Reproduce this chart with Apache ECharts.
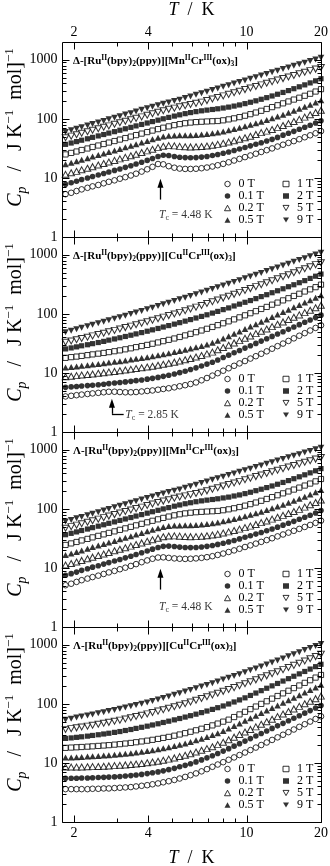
<!DOCTYPE html>
<html>
<head>
<meta charset="utf-8">
<script src="https://cdn.jsdelivr.net/npm/echarts@6/dist/echarts.min.js"></script>
<style>
  html, body { margin: 0; padding: 0; background: #fff; }
  #chart { width: 330px; height: 866px; }
</style>
</head>
<body>
<div id="chart"></div>
<script>
// Heat capacity Cp (J K^-1 mol^-1) versus temperature T (K), measured in applied fields 0–9 T.
const temperature = [1.85,1.95,2.05,2.15,2.27,2.38,2.51,2.64,2.77,2.92,3.07,3.23,3.40,3.57,3.76,3.96,4.16,4.38,4.60,4.84,5.10,5.36,5.64,5.93,6.24,6.57,6.91,7.27,7.64,8.04,8.46,8.90,9.36,9.85,10.36,10.90,11.46,12.06,12.68,13.34,14.04,14.77,15.53,16.34,17.19,18.08,19.02,20.0];
const fieldNames = ['0 T', '0.1 T', '0.2 T', '0.5 T', '1 T', '2 T', '5 T', '9 T'];

// Δ-[Ru(bpy)2(ppy)][MnCr(ox)3]
const cpDeltaMn_0T  = [5.3,5.6,6.0,6.4,6.8,7.2,7.6,8.1,8.6,9.1,9.7,10.3,11.0,11.8,12.8,14.0,15.4,17.2,17.0,15.8,14.9,14.4,14.2,14.2,14.3,14.6,15.0,15.6,16.4,17.3,18.4,19.7,21.0,22.5,24.0,25.7,27.5,29.5,31.6,34.0,36.5,39.2,42.0,45.2,48.8,52.7,57.0,62.0];
const cpDeltaMn_01T = [7.8,8.3,8.8,9.4,10.0,10.6,11.2,11.9,12.6,13.4,14.2,15.1,16.1,17.2,18.4,19.8,21.3,23.0,24.2,24.0,23.0,22.4,22.1,22.0,22.1,22.5,23.1,23.9,24.9,26.1,27.5,29.1,30.9,32.8,34.9,37.1,39.5,42.1,45.0,48.5,53,57,61.5,66.5,72,78,85,93];
const cpDeltaMn_02T = [11.5,12.2,12.9,13.7,14.6,15.5,16.5,17.5,18.6,19.8,21.0,22.3,23.7,25.2,26.9,28.7,30.6,32.6,34.4,35.2,34.9,34.2,33.7,33.5,33.6,34.0,34.7,35.7,37.0,38.6,40.5,42.7,45.1,47.8,50.7,54.5,58.5,62,66,71,77,83,90,98,107,117,128,140];
const cpDeltaMn_05T = [17.0,18.0,19.1,20.3,21.6,23.0,24.4,25.9,27.5,29.2,31.0,33.0,35.1,37.3,39.7,42.3,45.0,47.8,50.3,51.9,52.5,52.6,52.6,52.8,53.3,54.1,55.3,56.9,58.9,61.3,64.1,67.3,70.9,74.9,79.3,84.1,89.4,95.2,102,109.5,117.5,127,137,148,160,174,190,207];
const cpDeltaMn_1T  = [25.0,26.5,28.0,29.7,31.5,33.4,35.4,37.5,39.7,42.1,44.6,47.3,50.1,53.1,56.3,59.7,63.3,67.0,70.8,74.6,78.2,81.5,84.3,86.5,88.1,89.3,90.3,91.2,92,94.5,98,102,107,113,120,128,137,147,158,170,183,197,212,228,246,266,290,318];
const cpDeltaMn_2T  = [37,39,41.2,43.5,46,48.6,51.4,54.3,57.4,60.7,64.2,67.9,71.8,76,80.4,85,89.9,95,100.3,105.8,111.4,117,122.5,127.7,132.5,136.8,140.6,144.1,148,152.5,158,164.5,172,181,191,202,214.5,228.5,244,261,280,301,324,349,376,406,440,478];
const cpDeltaMn_5T  = [48,51,54,57,60.5,64,68,72,76,81,86,91,96.5,102,108,115,122,129,137,145,152,160,167,175,183,192,204,217,230,245,260,277,294,313,333,354,376,400,426,453,481,512,544,579,616,655,696,740];
const cpDeltaMn_9T  = [60,64,68,72,77,81.5,87,92,98,104,111,118,125,133,142,151,160,170,180,190,200,211,225,239,255,271,289,308,328,349,371,395,421,448,477,508,541,576,614,653,696,741,789,840,894,952,1014,1080];

// Δ-[Ru(bpy)2(ppy)][CuCr(ox)3]
const cpDeltaCu_0T  = [4.0,4.1,4.2,4.3,4.4,4.5,4.6,4.7,4.8,4.8,4.75,4.7,4.7,4.75,4.85,4.95,5.05,5.2,5.35,5.5,5.7,5.95,6.2,6.5,6.9,7.5,8.2,9.0,9.9,10.9,12.0,13.2,14.5,15.9,17.5,19.2,21.1,23.2,25.7,28.4,31.4,34.8,38.5,42.6,47.1,52.2,57.8,64];
const cpDeltaCu_01T = [5.7,5.8,5.9,6.0,6.1,6.2,6.3,6.45,6.6,6.75,6.9,7.05,7.2,7.4,7.6,7.85,8.1,8.4,8.75,9.15,9.6,10.1,10.7,11.4,12.2,13.1,14.1,15.2,16.6,18.2,20,21.9,24,26.3,28.8,31.6,34.6,37.9,41.5,45.5,49.9,54.7,59.9,65.7,72,78.9,86.5,95];
const cpDeltaCu_02T = [8.6,8.8,9.0,9.2,9.4,9.6,9.85,10.1,10.35,10.6,10.9,11.2,11.5,11.85,12.2,12.6,13.0,13.5,14.0,14.6,15.2,15.9,16.7,17.6,18.6,19.7,21,22.5,24.6,26.9,29.4,32.2,35.2,38.6,42.3,46.3,50.7,55.5,60.8,66.6,73,80,87.6,96,105,115,127,140];
const cpDeltaCu_05T = [12.3,12.6,12.9,13.2,13.5,13.85,14.2,14.6,15.0,15.4,15.8,16.3,16.8,17.3,17.9,18.5,19.2,19.9,20.7,21.6,22.5,23.5,24.6,25.8,27.2,28.7,30.4,32.4,34.9,38.1,41.8,45.9,50.4,55.4,60.8,66.8,73.4,80.6,88.5,97.2,107,117.5,129,141.6,155.5,170.7,187.4,206];
const cpDeltaCu_1T  = [18,18.5,18.9,19.4,20,20.6,21.2,21.8,22.5,23.3,24.1,25.1,26.1,27.3,28.5,29.8,31.2,32.8,34.5,36.3,38.3,40.6,43.2,45.9,48.9,52.3,55.9,60,64.4,69.3,74.7,80.7,87.3,94.5,102.5,111,121,131,143,155,169,184,201,219,239,260,283,312];
const cpDeltaCu_2T  = [25.5,26.5,27.6,28.8,30,31.3,32.7,34.2,35.9,37.6,39.4,41.4,43.5,45.8,48.2,50.8,53.6,56.6,59.8,63.3,67,71,75.3,80,85,90.5,96.4,103,110,118,126,136,146,157,168,181,196,211,228,246,266,288,311,337,365,398,434,472];
const cpDeltaCu_5T  = [33,34.7,36.4,38.3,40.3,42.4,44.7,47.1,49.7,52.5,55.5,58.6,62,65.6,69.5,73.7,78.1,82.9,88,93.5,99.3,106,113,121,130,139,150,160,172,185,199,214,231,249,268,289,312,336,363,392,424,458,496,536,581,629,681,735];
const cpDeltaCu_9T  = [49,51.8,54.9,58.1,61.5,65.2,69.1,73.3,77.8,82.6,87.8,93.3,99.2,105.5,112,119.5,127,136,145,154,165,176,188,201,215,230,246,263,282,302,323,347,372,399,428,459,493,530,569,611,657,706,759,816,877,943,1013,1085];

// Λ-[Ru(bpy)2(ppy)][MnCr(ox)3]
const cpLambdaMn_0T  = [5.1,5.4,5.8,6.2,6.6,7.0,7.4,7.9,8.4,8.9,9.5,10.1,10.8,11.6,12.5,13.4,14.3,15.0,15.1,14.8,14.5,14.3,14.2,14.3,14.5,14.8,15.2,15.8,16.6,17.5,18.6,19.8,21.1,22.6,24.1,25.8,27.6,29.6,31.8,34.2,36.8,39.6,42.5,45.8,49.4,53.4,57.8,63];
const cpLambdaMn_01T = [7.5,8.0,8.5,9.1,9.7,10.3,10.9,11.6,12.3,13.1,13.9,14.8,15.8,16.9,18.1,19.4,20.8,22.2,23.2,23.4,23.0,22.5,22.2,22.1,22.2,22.6,23.2,24.0,25.0,26.2,27.6,29.2,31.0,33.0,35.1,37.4,39.9,42.6,45.6,49,53,57,61.5,66.5,72,78,85,94];
const cpLambdaMn_02T = [11.2,11.9,12.6,13.4,14.3,15.2,16.2,17.2,18.3,19.5,20.7,22.0,23.4,24.9,26.5,28.2,30.0,31.9,33.6,34.7,34.9,34.5,34.0,33.8,33.9,34.3,35.0,36.0,37.3,38.9,40.8,43.0,45.4,48.1,51,54.5,58.5,62.5,67,72,77.5,83.5,90,98,107,117,128,141];
const cpLambdaMn_05T = [16.5,17.5,18.6,19.8,21.1,22.5,23.9,25.4,27.0,28.7,30.5,32.4,34.5,36.7,39.1,41.6,44.3,47.0,49.5,51.3,52.2,52.5,52.6,52.9,53.4,54.2,55.4,57.0,59.0,61.4,64.2,67.4,71,75,79.5,84.3,89.6,95.4,102,109.5,117.5,127,137,148,161,175,191,209];
const cpLambdaMn_1T  = [24.5,26.0,27.5,29.2,31.0,32.9,34.9,37.0,39.2,41.6,44.1,46.8,49.6,52.6,55.8,59.2,62.8,66.5,70.3,74.1,77.7,81.0,83.8,86.0,87.7,89.0,90.1,91.1,92.2,94.8,98.2,102.3,107.3,113.3,120.2,128,137,147,158,170,183,197,212,229,248,268,292,320];
const cpLambdaMn_2T  = [36.5,38.5,40.7,43,45.5,48.1,50.9,53.8,56.9,60.2,63.7,67.4,71.3,75.5,79.9,84.5,89.4,94.5,99.8,105,111,116.5,122,127,132,136.5,140.5,144,148,153,158,165,172,181,191,203,215,229,244,261,280,301,324,349,377,407,441,480];
const cpLambdaMn_5T  = [47,50,53,56,59.5,63,67,71,75.5,80,85,90,95.5,101,107,114,121,128,135.5,143,151,158.5,166,174,182,191,202,215,228,243,258,275,292,311,331,352,374,398,424,451,480,511,543,578,615,654,696,742];
const cpLambdaMn_9T  = [61,65,69,73,78,83,88,93.5,99.5,106,112.5,119.5,127,135,143.5,152.5,162,172,182,192,202.5,213.5,227,241,257,273,291,310,330,351,373,397,423,450,479,510,543,578,616,656,699,744,792,843,897,955,1017,1085];

// Λ-[Ru(bpy)2(ppy)][CuCr(ox)3]
const cpLambdaCu_0T  = [3.6,3.6,3.6,3.6,3.6,3.65,3.65,3.7,3.7,3.75,3.8,3.85,3.9,4.0,4.1,4.2,4.35,4.5,4.7,4.9,5.15,5.45,5.8,6.2,6.65,7.2,7.85,8.6,9.4,10.3,11.3,12.4,13.6,15,16.5,18.2,20.1,22.2,24.5,27.1,30,33.2,36.8,40.8,45.2,50.1,55.5,61.5];
const cpLambdaCu_01T = [5.5,5.5,5.5,5.55,5.55,5.6,5.65,5.7,5.75,5.8,5.9,6.0,6.1,6.25,6.4,6.6,6.8,7.05,7.35,7.7,8.1,8.6,9.1,9.7,10.4,11.25,12.2,13.25,14.45,15.85,17.45,19.25,21.2,23.4,25.8,28.5,31.5,34.8,38.4,42.4,46.8,51.7,57.1,63,69.6,76.9,84.9,93.5];
const cpLambdaCu_02T = [8.5,8.5,8.5,8.55,8.6,8.65,8.7,8.8,8.9,9.0,9.1,9.25,9.4,9.6,9.8,10.05,10.35,10.7,11.1,11.6,12.15,12.8,13.5,14.35,15.3,16.35,17.45,18.75,20.4,22.4,24.7,27.3,30.2,33.4,36.9,40.8,45.1,49.8,55,60.8,67.2,74.3,82.1,90.7,100.2,110.7,122.3,135.2];
const cpLambdaCu_05T = [12.3,12.4,12.5,12.65,12.8,12.95,13.1,13.3,13.5,13.7,14,14.3,14.6,14.95,15.4,15.85,16.4,17,17.7,18.4,19.3,20.3,21.4,22.7,24.1,25.7,27.5,29.6,31.9,34.6,38.2,42.2,46.7,51.6,57,63,69.7,77,85.1,94.1,104,115,127,140,155,171,190,210];
const cpLambdaCu_1T  = [18,18.2,18.4,18.6,18.85,19.1,19.4,19.7,20,20.4,20.8,21.3,21.8,22.4,23.1,23.8,24.6,25.5,26.5,27.6,28.9,30.3,31.9,33.7,35.7,37.9,40.4,43.2,46.4,50,54,59.8,66.3,73.4,81.4,90.1,99.9,110.6,122.6,135.8,150.5,166.7,184.7,204.7,226.8,251.2,278.4,308.4];
const cpLambdaCu_2T  = [26,26.5,27.1,27.7,28.4,29.2,30,30.9,31.8,32.9,34,35.4,36.8,38.4,40.1,41.9,43.9,46,48.4,50.9,53.6,56.5,59.7,63.1,66.9,71.1,75.6,80.6,86.1,92.1,99.5,107.6,116.6,126.4,138.8,152.4,167.3,183.7,201.7,221.5,243.2,267,293.2,321.9,353.4,388,426,468];
const cpLambdaCu_5T  = [37,38.1,39.3,40.6,42,43.5,45.1,46.9,48.7,50.8,53,55.3,58.1,61.1,64.2,67.7,71.4,75.4,79.7,84.4,89.4,94.9,100.8,107.6,115.1,123.2,131.9,141.4,151.7,163,175.2,188.5,203,218.9,236.2,255.1,275.7,298.3,323.1,350.2,380,412.7,448.6,488.1,531.5,579.3,631.5,695];
const cpLambdaCu_9T  = [54,56.2,58.5,60.9,63.5,66.2,69.1,72.2,75.5,79,82.7,86.6,90.8,95.2,100,105.8,112,118.8,126,133.8,142.3,151.4,161.2,171.9,183.4,195.8,209.3,224,239.9,257.2,275.9,296.3,318.5,342.8,369.2,398,429.4,463.8,501.3,542.4,587.5,636.8,691,749.7,813.4,882.6,957.6,1035];

// Ordering temperatures (K)
const tcDeltaMn = 4.48;
const tcDeltaCu = 2.85;
const tcLambdaMn = 4.48;

// Axis ticks
const xMajorTicks = [2, 4, 10, 20];
const xTickLabels = ['2', '4', '10', '20'];
const xMinorTicks = [3, 5, 6, 7, 8, 9];
const yMajorTicks = [1, 10, 100, 1000];
const yTickLabels = ['1', '10', '100', '1000'];
const yMinorTicks = [2, 3, 4, 5, 6, 7, 8, 9, 20, 30, 40, 50, 60, 70, 80, 90, 200, 300, 400, 500, 600, 700, 800, 900];

const FONT = '"Liberation Serif", "Times New Roman", serif';
const GRID_LEFT = 62, GRID_WIDTH = 259, GRID_HEIGHT = 195;
const GRID_TOPS = [42, 237, 432, 627];
const X_MIN = 1.79, X_MAX = 20, Y_MIN = 1, Y_MAX = 2000;

const DOWN_TRIANGLE = 'path://M0,0L10,0L5,8.66Z';
const markerStyles = [
  { symbol: 'circle', size: 5.6, hollow: true },
  { symbol: 'circle', size: 5.6, hollow: false },
  { symbol: 'triangle', size: [6.6, 6], hollow: true },
  { symbol: 'triangle', size: [6.6, 6], hollow: false },
  { symbol: 'rect', size: 5.2, hollow: true },
  { symbol: 'rect', size: 5.2, hollow: false },
  { symbol: DOWN_TRIANGLE, size: [6.6, 6], hollow: true },
  { symbol: DOWN_TRIANGLE, size: [6.6, 6], hollow: false }
];

const panels = [
  { hand: 'Δ', metal: 'Mn', data: [cpDeltaMn_0T, cpDeltaMn_01T, cpDeltaMn_02T, cpDeltaMn_05T, cpDeltaMn_1T, cpDeltaMn_2T, cpDeltaMn_5T, cpDeltaMn_9T],
    tc: tcDeltaMn, arrow: { kind: 'up', tail: 4.3, end: 8.1, labelT: 4.42, labelC: 2.4 } },
  { hand: 'Δ', metal: 'Cu', data: [cpDeltaCu_0T, cpDeltaCu_01T, cpDeltaCu_02T, cpDeltaCu_05T, cpDeltaCu_1T, cpDeltaCu_2T, cpDeltaCu_5T, cpDeltaCu_9T],
    tc: tcDeltaCu, arrow: { kind: 'elbow', tail: 2.03, end: 3.07, elbowT: 3.18, labelT: 3.23, labelC: 1.92 } },
  { hand: 'Λ', metal: 'Mn', data: [cpLambdaMn_0T, cpLambdaMn_01T, cpLambdaMn_02T, cpLambdaMn_05T, cpLambdaMn_1T, cpLambdaMn_2T, cpLambdaMn_5T, cpLambdaMn_9T],
    tc: tcLambdaMn, arrow: { kind: 'up', tail: 4.3, end: 8.1, labelT: 4.42, labelC: 2.2 } },
  { hand: 'Λ', metal: 'Cu', data: [cpLambdaCu_0T, cpLambdaCu_01T, cpLambdaCu_02T, cpLambdaCu_05T, cpLambdaCu_1T, cpLambdaCu_2T, cpLambdaCu_5T, cpLambdaCu_9T],
    tc: null, arrow: null }
];

function markerItemStyle(m) {
  return m.hollow
    ? { color: '#fff', borderColor: '#000', borderWidth: 1 }
    : { color: '#000', borderWidth: 0 };
}

// Frame, inward ticks on all four sides, and the tick labels
function frameRenderer(panelIndex) {
  return function (params, api) {
    const bl = api.coord([X_MIN, Y_MIN]);
    const tr = api.coord([X_MAX, Y_MAX]);
    const L = Math.round(bl[0]) + 0.5, B = Math.round(bl[1]) + 0.5;
    const R = Math.round(tr[0]) + 0.5, T = Math.round(tr[1]) + 0.5;
    const kids = [];
    const seg = (x1, y1, x2, y2) => kids.push({ type: 'line', shape: { x1, y1, x2, y2 }, style: { stroke: '#000', lineWidth: 1 } });
    kids.push({ type: 'rect', shape: { x: L, y: T, width: R - L, height: B - T }, style: { fill: 'none', stroke: '#000', lineWidth: 1 } });
    const xTick = (v, len) => { const x = Math.round(api.coord([v, Y_MIN])[0]) + 0.5; seg(x, B, x, B - len); seg(x, T, x, T + len); };
    const yTick = (v, len) => { const y = Math.round(api.coord([X_MIN, v])[1]) + 0.5; seg(L, y, L + len, y); seg(R, y, R - len, y); };
    xMajorTicks.forEach(v => xTick(v, 7));
    xMinorTicks.forEach(v => xTick(v, 4));
    yMajorTicks.forEach(v => yTick(v, 7));
    yMinorTicks.forEach(v => yTick(v, 4));
    // Cp tick labels on the left edge
    yMajorTicks.forEach((v, i) => {
      const y = api.coord([X_MIN, v])[1];
      kids.push({ type: 'text', style: { text: yTickLabels[i], x: L - 5, y, align: 'right', verticalAlign: 'middle', textAlign: 'right', textVerticalAlign: 'middle', font: '14px ' + FONT, fill: '#000' } });
    });
    if (panelIndex === 0 || panelIndex === 3) {
      xMajorTicks.forEach((v, i) => {
        const x = api.coord([v, Y_MIN])[0];
        const y = panelIndex === 0 ? T - 10 : B + 11;
        kids.push({ type: 'text', style: { text: xTickLabels[i], x, y, align: 'center', verticalAlign: 'middle', textAlign: 'center', textVerticalAlign: 'middle', font: '14px ' + FONT, fill: '#000' } });
      });
    }
    return { type: 'group', children: kids };
  };
}

const grids = [], xAxes = [], yAxes = [], series = [], legends = [], graphics = [];

panels.forEach((p, i) => {
  grids.push({ left: GRID_LEFT, top: GRID_TOPS[i], width: GRID_WIDTH, height: GRID_HEIGHT, show: false });
  xAxes.push({ type: 'log', logBase: 10, gridIndex: i, min: X_MIN, max: X_MAX, show: false });
  yAxes.push({ type: 'log', logBase: 10, gridIndex: i, min: Y_MIN, max: Y_MAX, show: false });

  p.data.forEach((values, k) => {
    const m = markerStyles[k];
    series.push({
      type: 'scatter', name: fieldNames[k], xAxisIndex: i, yAxisIndex: i,
      symbol: m.symbol, symbolSize: m.size,
      itemStyle: markerItemStyle(m),
      data: temperature.map((t, j) => [t, values[j]]),
      silent: true, z: 2 + k * 0.01
    });
  });

  series.push({
    type: 'custom', xAxisIndex: i, yAxisIndex: i, renderItem: frameRenderer(i),
    data: [[5, 10]], silent: true, z: 5, clip: false
  });

  if (p.tc !== null) {
    const a = p.arrow;
    const lines = [
      [{ coord: [p.tc, a.tail], symbol: 'none' }, { coord: [p.tc, a.end], symbol: 'triangle', symbolSize: [6, 9] }]
    ];
    if (a.kind === 'elbow') {
      lines.push([{ coord: [p.tc, a.tail], symbol: 'none' }, { coord: [a.elbowT, a.tail], symbol: 'none' }]);
    }
    series.push({
      type: 'scatter', xAxisIndex: i, yAxisIndex: i, symbolSize: 0, silent: true, z: 6,
      data: [[a.labelT, a.labelC]],
      label: {
        show: true, position: 'right', distance: 0,
        formatter: '{i|T}{s|c}{n| = ' + p.tc.toFixed(2) + ' K}',
        rich: {
          i: { fontFamily: FONT, fontStyle: 'italic', fontSize: 11.5, color: '#000', lineHeight: 14 },
          s: { fontFamily: FONT, fontSize: 8, color: '#000', lineHeight: 7, verticalAlign: 'bottom' },
          n: { fontFamily: FONT, fontSize: 11.5, color: '#000', lineHeight: 14 }
        }
      },
      markLine: {
        silent: true, symbol: ['none', 'none'], label: { show: false },
        lineStyle: { color: '#000', width: 1.3, type: 'solid' },
        emphasis: { disabled: true },
        data: lines
      }
    });
  }

  legends.push({
    orient: 'vertical', left: 224, top: GRID_TOPS[i] + GRID_HEIGHT - 59, height: 48, padding: 0,
    itemWidth: 6, itemHeight: 5.5, itemGap: 0, selectedMode: false,
    textStyle: { fontFamily: FONT, fontSize: 12, color: '#000', lineHeight: 11.7, width: 44, padding: [0, 0, 0, 3] },
    data: fieldNames.map((n, k) => ({ name: n, icon: markerStyles[k].symbol, itemStyle: markerItemStyle(markerStyles[k]) }))
  });

  // Compound label
  const sup = { fontFamily: FONT, fontWeight: 'bold', fontSize: 7.5, lineHeight: 9, verticalAlign: 'top', fill: '#000' };
  const sub = { fontFamily: FONT, fontWeight: 'bold', fontSize: 7.5, lineHeight: 7.5, verticalAlign: 'bottom', fill: '#000' };
  graphics.push({
    type: 'text', x: 73, y: GRID_TOPS[i] + 19, silent: true,
    style: {
      text: '{b|' + p.hand + '-[Ru}{sp|II}{b|(bpy)}{sb|2}{b|(ppy)][' + p.metal + '}{sp|II}{b|Cr}{sp|III}{b|(ox)}{sb|3}{b|]}',
      align: 'left', verticalAlign: 'middle',
      rich: {
        b: { fontFamily: FONT, fontWeight: 'bold', fontSize: 11, lineHeight: 14, fill: '#000' },
        sp: sup, sb: sub
      }
    }
  });

  // Vertical axis title
  graphics.push({
    type: 'text', x: 16, y: GRID_TOPS[i] + GRID_HEIGHT / 2 - 12, rotation: Math.PI / 2, silent: true,
    style: {
      text: '{i|C}{ip|p}{n|   /   J K}{sp|−1}{n|  mol]}{sp|−1}',
      align: 'center', verticalAlign: 'middle',
      rich: {
        i: { fontFamily: FONT, fontStyle: 'italic', fontSize: 20, lineHeight: 26, fill: '#000' },
        ip: { fontFamily: FONT, fontStyle: 'italic', fontSize: 14, lineHeight: 14.4, verticalAlign: 'bottom', fill: '#000' },
        n: { fontFamily: FONT, fontSize: 20, lineHeight: 26, fill: '#000' },
        sp: { fontFamily: FONT, fontSize: 13, lineHeight: 16, verticalAlign: 'top', fill: '#000' }
      }
    }
  });
});

// Temperature axis titles, top and bottom
[10, 858].forEach(y => {
  graphics.push({
    type: 'text', x: GRID_LEFT + GRID_WIDTH / 2, y, silent: true,
    style: {
      text: '{i|T}{n|  /  K}', align: 'center', verticalAlign: 'middle',
      rich: {
        i: { fontFamily: FONT, fontStyle: 'italic', fontSize: 18, fill: '#000' },
        n: { fontFamily: FONT, fontSize: 18, fill: '#000' }
      }
    }
  });
});

const chart = echarts.init(document.getElementById('chart'), null, { renderer: 'canvas', width: 330, height: 866 });
chart.setOption({
  backgroundColor: '#fff',
  animation: false,
  grid: grids,
  xAxis: xAxes,
  yAxis: yAxes,
  legend: legends,
  graphic: graphics,
  series: series
});
</script>
</body>
</html>
